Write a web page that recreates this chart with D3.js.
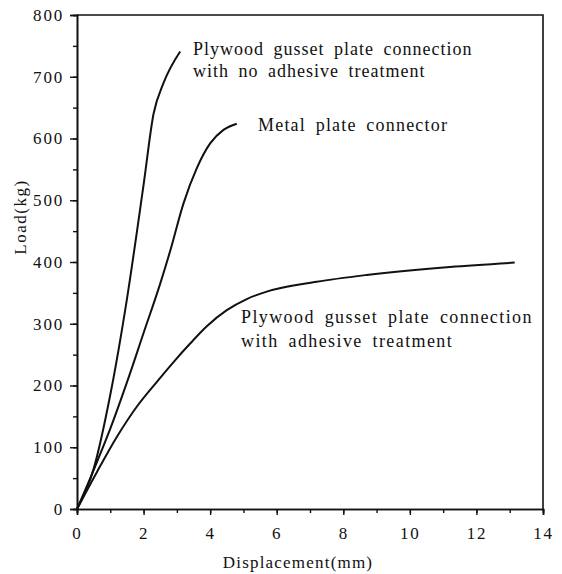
<!DOCTYPE html>
<html>
<head>
<meta charset="utf-8">
<script src="https://cdn.jsdelivr.net/npm/d3@7"></script>
<style>
  body { margin: 0; background: #fff; }
  svg text { font-family: "Liberation Serif", "DejaVu Serif", serif; fill: #111; }
</style>
</head>
<body>
<svg id="chart" width="562" height="574"></svg>
<script>
/*
** Data
*/
var xTicks = [0, 2, 4, 6, 8, 10, 12, 14]
  , yTicks = [0, 100, 200, 300, 400, 500, 600, 700, 800]
  , noAdhesive = [
        [0, 0], [0.5, 65], [1.0, 185], [1.5, 340], [2.0, 525]
      , [2.3, 640], [2.6, 690], [3.1, 741]
    ]
  , metalPlate = [
        [0, 0], [0.5, 63], [1.0, 130], [1.5, 205], [2.0, 285], [2.5, 365]
      , [2.8, 418], [3.2, 495], [3.6, 552], [4.0, 592], [4.4, 614], [4.8, 624]
    ]
  , withAdhesive = [
        [0, 0], [0.6, 60], [1.2, 117], [1.8, 166], [2.4, 206], [2.9, 238]
      , [3.4, 268], [3.9, 296], [4.5, 322], [5.1, 340], [5.7, 352]
      , [7.2, 368], [8.7, 379], [11.2, 392], [13.15, 399]
    ]
  , noAdhesiveLabel = ["Plywood gusset plate connection", "with no adhesive treatment"]
  , metalLabel = ["Metal plate connector"]
  , withAdhesiveLabel = ["Plywood gusset plate connection", "with adhesive treatment"]
;

/*
** Scales
*/
var svg = d3.select("#chart")
  , x = d3.scaleLinear().domain([0, 14]).range([77, 543])
  , y = d3.scaleLinear().domain([0, 800]).range([509, 15])
  , line = d3.line()
      .x(function(d) { return x(d[0]); })
      .y(function(d) { return y(d[1]); })
      .curve(d3.curveMonotoneX)
;

/*
** Axes
*/
function axisStyle(g) {
    g.select(".domain").attr("stroke", "#111").attr("stroke-width", 1.6);
    g.selectAll(".tick line").attr("stroke", "#111").attr("stroke-width", 1.4);
    g.selectAll(".tick text")
        .style("font-size", "17px")
        .style("letter-spacing", "1.8px")
    ;
} // axisStyle()

// minor ticks first, no labels
svg.append("g")
    .attr("transform", "translate(0," + y(0) + ")")
    .call(d3.axisBottom(x).ticks(14).tickSize(4).tickFormat(""))
    .call(axisStyle)
;
svg.append("g")
    .attr("transform", "translate(" + x(0) + ",0)")
    .call(d3.axisLeft(y).ticks(16).tickSize(4).tickFormat(""))
    .call(axisStyle)
;

svg.append("g")
    .attr("transform", "translate(0," + y(0) + ")")
    .call(d3.axisBottom(x).tickValues(xTicks).tickSize(6).tickPadding(12))
    .call(axisStyle)
;
svg.append("g")
    .attr("transform", "translate(" + x(0) + ",0)")
    .call(d3.axisLeft(y).tickValues(yTicks).tickSize(7).tickPadding(6))
    .call(axisStyle)
;

// top and right frame
svg.append("path")
    .attr("d", "M" + x(0) + "," + y(800) + "H" + x(14) + "V" + y(0))
    .attr("fill", "none")
    .attr("stroke", "#111")
    .attr("stroke-width", 1.6)
;

/*
** Curves
*/
[noAdhesive, metalPlate, withAdhesive].forEach(function(series) {
    svg.append("path")
        .datum(series)
        .attr("d", line)
        .attr("fill", "none")
        .attr("stroke", "#111")
        .attr("stroke-width", 2)
    ;
  });

/*
** Labels
*/
function addLabel(lines, px, py, gap, spacing) {
    var t = svg.append("text")
        .attr("x", px)
        .attr("y", py)
        .style("font-size", "18px")
        .style("letter-spacing", spacing + "px")
        .style("word-spacing", "4px")
    ;
    t.selectAll("tspan")
        .data(lines)
      .enter().append("tspan")
        .attr("x", px)
        .attr("dy", function(d, i) { return i ? gap : 0; })
        .text(function(d) { return d; })
    ;
} // addLabel()

addLabel(noAdhesiveLabel, 193, 55, 22, 1.0);
addLabel(metalLabel, 258, 131, 22, 1.2);
addLabel(withAdhesiveLabel, 241, 323, 24, 1.4);

svg.append("text")
    .attr("x", 298)
    .attr("y", 568)
    .attr("text-anchor", "middle")
    .style("font-size", "17px")
    .style("letter-spacing", "1.2px")
    .text("Displacement(mm)")
;
svg.append("text")
    .attr("transform", "translate(26,217) rotate(-90)")
    .attr("text-anchor", "middle")
    .style("font-size", "17px")
    .style("letter-spacing", "1.5px")
    .text("Load(kg)")
;
</script>
</body>
</html>
